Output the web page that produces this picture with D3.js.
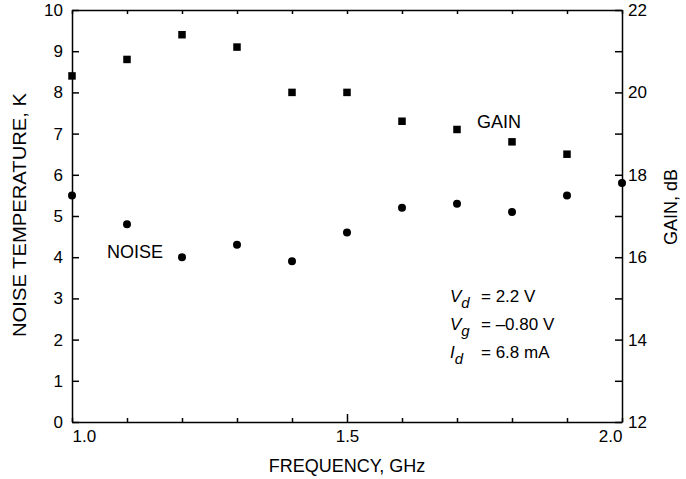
<!DOCTYPE html>
<html>
<head>
<meta charset="utf-8">
<script src="https://cdn.jsdelivr.net/npm/d3@7/dist/d3.min.js"></script>
<style>
  body { margin: 0; background: #fff; }
  svg { display: block; font-family: "Liberation Sans", Arial, Helvetica, sans-serif; }
  .axis path, .axis line { stroke: #000; stroke-width: 1.5; }
  .axis text { font-size: 17px; fill: #000; font-family: "Liberation Sans", Arial, sans-serif; }
</style>
</head>
<body>
<div id="chart"></div>
<script>
// frequencies in GHz
const freq = [1.0, 1.1, 1.2, 1.3, 1.4, 1.5, 1.6, 1.7, 1.8, 1.9, 2.0];
// noise temperature, K (circles, left axis)
const noise = [5.5, 4.8, 4.0, 4.3, 3.9, 4.6, 5.2, 5.3, 5.1, 5.5, 5.8];
// gain, dB (squares, right axis)
const gainFreq = [1.0, 1.1, 1.2, 1.3, 1.4, 1.5, 1.6, 1.7, 1.8, 1.9];
const gain = [20.4, 20.8, 21.4, 21.1, 20.0, 20.0, 19.3, 19.1, 18.8, 18.5];

const noiseTicks = [0, 1, 2, 3, 4, 5, 6, 7, 8, 9, 10];
const gainTicks = [12, 13, 14, 15, 16, 17, 18, 19, 20, 21, 22];
const freqLabels = [1.0, 1.5, 2.0];

const width = 686, height = 479;
const plotL = 72, plotR = 622, plotT = 10, plotB = 422;

const svg = d3.select('#chart').append('svg')
    .attr('width', width)
    .attr('height', height);

const x = d3.scaleLinear().domain([1.0, 2.0]).range([plotL, plotR]);
const yNoise = d3.scaleLinear().domain([0, 10]).range([plotB, plotT]);
const yGain = d3.scaleLinear().domain([12, 22]).range([plotB, plotT]);

// left axis
svg.append('g').attr('class', 'axis')
    .attr('transform', `translate(${plotL},0)`)
    .call(d3.axisLeft(yNoise).tickValues(noiseTicks).tickSizeInner(-7).tickSizeOuter(0).tickPadding(9));

// right axis, labels every 2 dB
svg.append('g').attr('class', 'axis')
    .attr('transform', `translate(${plotR},0)`)
    .call(d3.axisRight(yGain).tickValues(gainTicks).tickSizeInner(-7).tickSizeOuter(0).tickPadding(6)
        .tickFormat(d => d % 2 === 0 ? d : ''));

// bottom axis
const fmt = d3.format('.1f');
const xb = svg.append('g').attr('class', 'axis')
    .attr('transform', `translate(0,${plotB})`)
    .call(d3.axisBottom(x).tickValues(freq).tickSizeInner(-4).tickSizeOuter(0).tickPadding(8)
        .tickFormat(d => freqLabels.some(v => Math.abs(v - d) < 1e-6) ? fmt(d) : ''));
xb.selectAll('.tick line').attr('y2', d => Math.abs(d - 1.5) < 1e-6 ? -8 : -4);
xb.selectAll('.tick text')
    .attr('text-anchor', d => d < 1.05 ? 'start' : (d > 1.95 ? 'end' : 'middle'));

// top axis
svg.append('g').attr('class', 'axis')
    .attr('transform', `translate(0,${plotT})`)
    .call(d3.axisTop(x).tickValues(freq).tickSizeInner(-4).tickSizeOuter(0).tickFormat(''));

// axis titles
svg.append('text')
    .attr('transform', `translate(20,215) rotate(-90)`)
    .attr('text-anchor', 'middle').attr('dominant-baseline', 'central')
    .attr('textLength', 244).attr('lengthAdjust', 'spacingAndGlyphs')
    .style('font-size', '18px')
    .text('NOISE TEMPERATURE, K');

svg.append('text')
    .attr('transform', `translate(671,207) rotate(-90)`)
    .attr('text-anchor', 'middle').attr('dominant-baseline', 'central')
    .style('font-size', '18px')
    .text('GAIN, dB');

svg.append('text')
    .attr('x', 347).attr('y', 472)
    .attr('text-anchor', 'middle')
    .style('font-size', '18px')
    .text('FREQUENCY, GHz');

// gain squares
const sq = 7.5;
svg.append('g').selectAll('rect')
    .data(gain)
    .enter()
    .append('rect')
    .attr('x', (d, i) => x(gainFreq[i]) - sq / 2)
    .attr('y', d => yGain(d) - sq / 2)
    .attr('width', sq)
    .attr('height', sq)
    .attr('fill', '#000');

// noise circles
svg.append('g').selectAll('circle')
    .data(noise)
    .enter()
    .append('circle')
    .attr('cx', (d, i) => x(freq[i]))
    .attr('cy', d => yNoise(d))
    .attr('r', 4)
    .attr('fill', '#000');

// series labels
svg.append('text').attr('x', 477).attr('y', 128)
    .style('font-size', '18px').text('GAIN');
svg.append('text').attr('x', 107).attr('y', 258)
    .style('font-size', '18px').text('NOISE');

// bias conditions
const bias = [
    { sym: 'V', sub: 'd', val: '= 2.2 V' },
    { sym: 'V', sub: 'g', val: '= \u20130.80 V' },
    { sym: 'I', sub: 'd', val: '= 6.8 mA' }
];
const biasG = svg.append('g').style('font-size', '17px');
bias.forEach((b, i) => {
    const yy = 302 + i * 28;
    const t = biasG.append('text').attr('x', 450).attr('y', yy);
    t.append('tspan').style('font-style', 'italic').text(b.sym);
    t.append('tspan').style('font-style', 'italic').style('font-size', '15px')
        .attr('dy', 6).text(b.sub);
    biasG.append('text').attr('x', 481).attr('y', yy).text(b.val);
});
</script>
</body>
</html>
